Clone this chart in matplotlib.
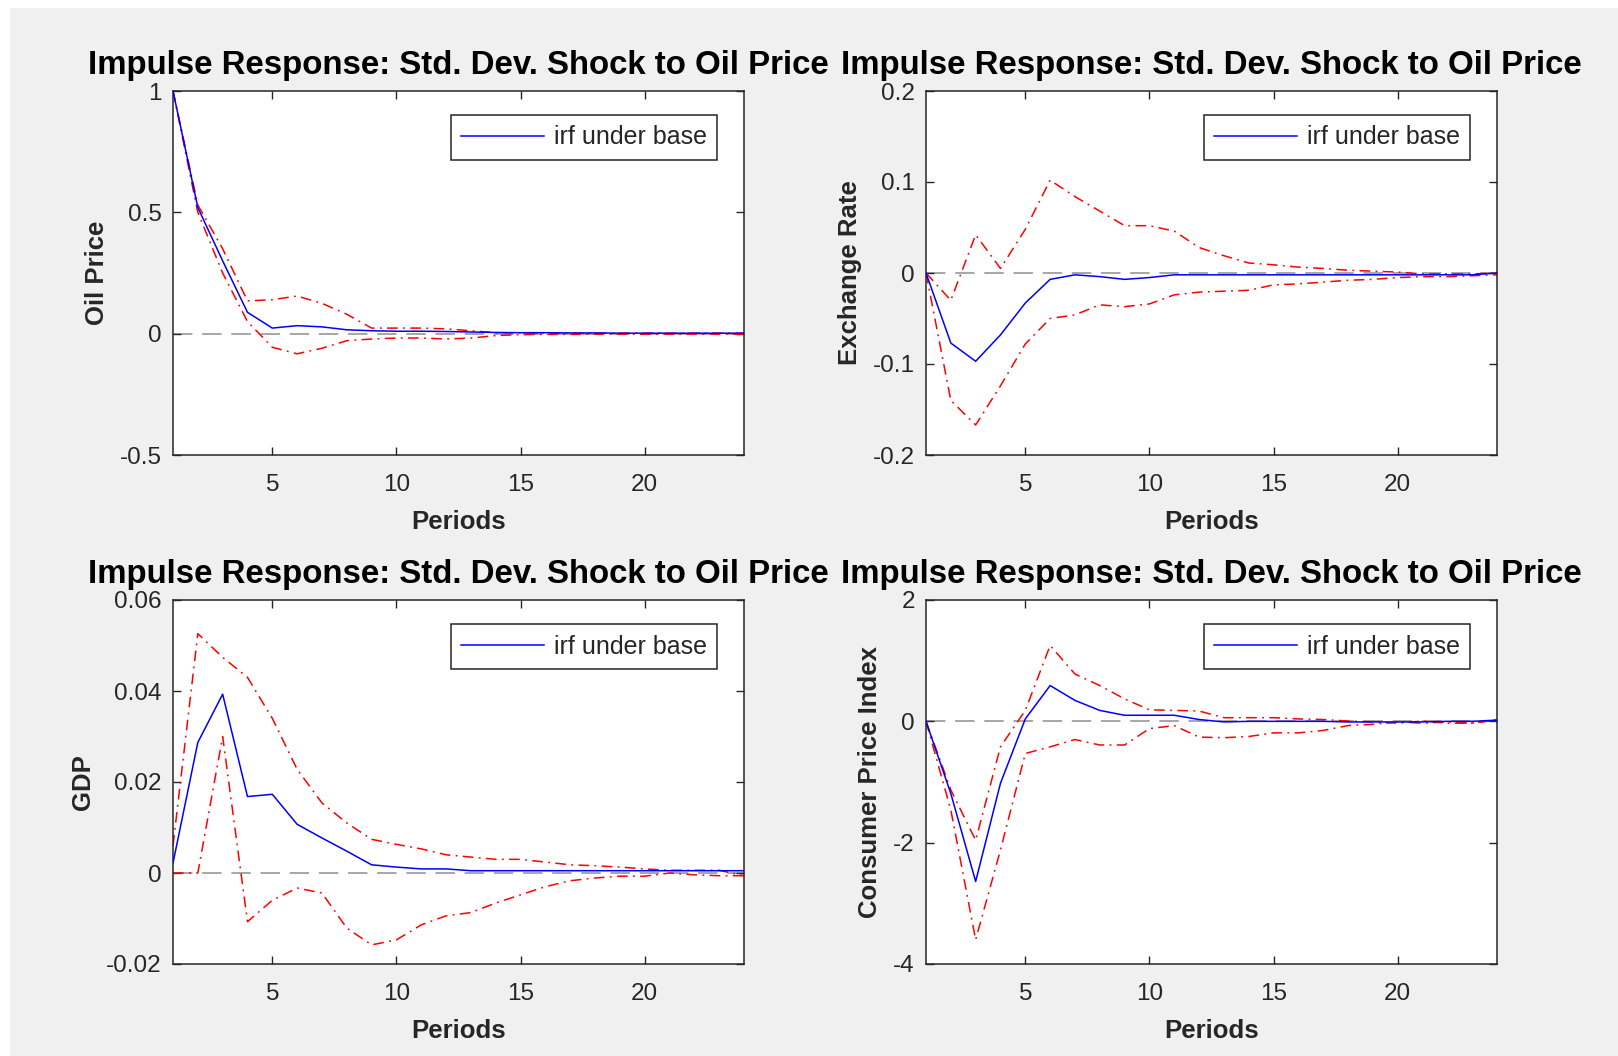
import matplotlib
matplotlib.use('Agg')
import matplotlib.pyplot as plt
from matplotlib.patches import Rectangle

plt.rcParams['font.family'] = ['Liberation Sans', 'DejaVu Sans']

periods = list(range(1, 25))

# oil price
oil_irf = [1.0, 0.52, 0.30, 0.088, 0.023, 0.033, 0.028, 0.016, 0.012, 0.010, 0.010, 0.009,
           0.007, 0.005, 0.004, 0.004, 0.003, 0.003, 0.002, 0.002, 0.002, 0.002, 0.002, 0.002]
oil_up = [1.0, 0.53, 0.35, 0.135, 0.14, 0.155, 0.125, 0.08, 0.023, 0.023, 0.023, 0.02,
          0.012, 0.004, 0.003, 0.002, 0.002, 0.002, 0.002, 0.002, 0.002, 0.002, 0.002, 0.002]
oil_lo = [1.0, 0.50, 0.25, 0.05, -0.056, -0.083, -0.06, -0.029, -0.022, -0.018, -0.018, -0.022,
          -0.018, -0.008, -0.004, -0.003, -0.003, -0.002, -0.002, -0.002, -0.002, -0.002, -0.002, -0.002]

# exchange rate
fx_irf = [0.0, -0.077, -0.097, -0.068, -0.033, -0.007, -0.002, -0.004, -0.007, -0.005, -0.002, -0.002,
          -0.002, -0.002, -0.002, -0.002, -0.002, -0.002, -0.002, -0.002, -0.002, -0.002, -0.002, 0.0]
fx_up = [0.0, -0.030, 0.042, 0.005, 0.048, 0.102, 0.084, 0.068, 0.052, 0.052, 0.046, 0.028,
         0.019, 0.011, 0.009, 0.0065, 0.005, 0.003, 0.002, 0.001, -0.001, -0.001, -0.001, 0.0]
fx_lo = [0.0, -0.14, -0.167, -0.124, -0.078, -0.050, -0.046, -0.035, -0.037, -0.034, -0.024, -0.021,
         -0.020, -0.019, -0.013, -0.012, -0.010, -0.008, -0.007, -0.005, -0.004, -0.004, -0.003, -0.002]

# gdp
gdp_irf = [0.0022, 0.0287, 0.0393, 0.0168, 0.0173, 0.0107, 0.0077, 0.0048, 0.0018, 0.0013, 0.0009, 0.0009,
           0.0005, 0.0005, 0.0005, 0.0005, 0.0005, 0.0005, 0.0005, 0.0005, 0.0005, 0.0005, 0.0005, 0.0005]
gdp_up = [0.006, 0.0526, 0.0474, 0.043, 0.034, 0.0228, 0.0154, 0.011, 0.0074, 0.0063, 0.0053, 0.004,
          0.0035, 0.003, 0.003, 0.0024, 0.0018, 0.0016, 0.0013, 0.0009, 0.0006, 0.0006, 0.0006, -0.0006]
gdp_lo = [0.0, 0.0, 0.030, -0.0107, -0.006, -0.0033, -0.0044, -0.0121, -0.0158, -0.0147, -0.0114, -0.0094,
          -0.0087, -0.0066, -0.0048, -0.003, -0.0017, -0.0011, -0.0007, -0.0007, 0.0, -0.0004, -0.0006, -0.0006]

# consumer price index
cpi_irf = [0.0, -1.19, -2.64, -1.02, 0.04, 0.59, 0.345, 0.18, 0.10, 0.10, 0.10, 0.03,
           -0.01, 0.0, 0.0, 0.0, 0.0, -0.01, -0.01, -0.01, -0.01, 0.0, 0.0, 0.02]
cpi_up = [0.0, -1.13, -1.96, -0.42, 0.18, 1.25, 0.78, 0.59, 0.37, 0.19, 0.18, 0.17,
          0.06, 0.06, 0.06, 0.04, 0.03, 0.005, -0.01, -0.03, 0.005, -0.03, -0.03, 0.03]
cpi_lo = [0.0, -1.46, -3.6, -2.12, -0.53, -0.42, -0.30, -0.39, -0.39, -0.12, -0.07, -0.26,
          -0.27, -0.25, -0.19, -0.19, -0.15, -0.07, -0.05, -0.01, -0.03, -0.01, -0.03, 0.02]

panels = [
    ('Oil Price', oil_irf, oil_up, oil_lo, (-0.5, 1), [-0.5, 0, 0.5, 1], ['-0.5', '0', '0.5', '1']),
    ('Exchange Rate', fx_irf, fx_up, fx_lo, (-0.2, 0.2), [-0.2, -0.1, 0, 0.1, 0.2],
     ['-0.2', '-0.1', '0', '0.1', '0.2']),
    ('GDP', gdp_irf, gdp_up, gdp_lo, (-0.02, 0.06), [-0.02, 0, 0.02, 0.04, 0.06],
     ['-0.02', '0', '0.02', '0.04', '0.06']),
    ('Consumer Price Index', cpi_irf, cpi_up, cpi_lo, (-4, 2), [-4, -2, 0, 2], ['-4', '-2', '0', '2']),
]

W, H = 1618, 1056
fig = plt.figure(figsize=(W / 100, H / 100), dpi=100, facecolor='white')
fig.add_artist(Rectangle((10 / W, 0), 1 - 10 / W, 1 - 8 / H, transform=fig.transFigure,
                         facecolor='#f0f0f0', edgecolor='none', zorder=-10))

lefts = [173, 926]
tops = [91, 600]
aw, ah = 571, 364
dark = '#262626'

for k, (ylab, irf, up, lo, ylim, yt, ytl) in enumerate(panels):
    l = lefts[k % 2]
    t = tops[k // 2]
    ax = fig.add_axes([l / W, 1 - (t + ah) / H, aw / W, ah / H])
    ax.set_facecolor('white')
    ax.axhline(0, color='#a6a6a6', lw=1.4, ls=(0, (10, 5)), zorder=1)
    ax.plot(periods, irf, color='#0000ff', lw=1.1, label='irf under base', zorder=3)
    ax.plot(periods, up, color='#ff0000', lw=1.1, ls=(0, (7, 3.5, 1.2, 3.5)), zorder=2)
    ax.plot(periods, lo, color='#ff0000', lw=1.1, ls=(0, (7, 3.5, 1.2, 3.5)), zorder=2)
    ax.set_xlim(1, 24)
    ax.set_ylim(*ylim)
    ax.set_xticks([5, 10, 15, 20])
    ax.set_yticks(yt)
    ax.set_yticklabels(ytl)
    ax.tick_params(axis='both', direction='in', length=6, width=1, colors=dark,
                   top=True, right=True, labelsize=17.5)
    ax.tick_params(axis='x', pad=14)
    ax.tick_params(axis='y', pad=8)
    for s in ax.spines.values():
        s.set_color(dark)
        s.set_linewidth(1.1)
    ax.set_xlabel('Periods', fontsize=18.5, fontweight='bold', color=dark, labelpad=10)
    ax.set_ylabel(ylab, fontsize=18.5, fontweight='bold', color=dark, labelpad=8)
    ax.set_title('Impulse Response: Std. Dev. Shock to Oil Price', fontsize=23.8,
                 fontweight='bold', color='black', pad=12)
    leg = ax.legend(loc='upper right', bbox_to_anchor=(1 - 27 / aw, 1 - 24 / ah),
                    borderaxespad=0, fontsize=18, handlelength=3.3, handletextpad=0.4,
                    borderpad=0.42, fancybox=False, framealpha=1, edgecolor=dark)
    leg.get_frame().set_linewidth(1.1)
    for txt in leg.get_texts():
        txt.set_color(dark)

fig.savefig('out.png', dpi=100, facecolor=fig.get_facecolor())
